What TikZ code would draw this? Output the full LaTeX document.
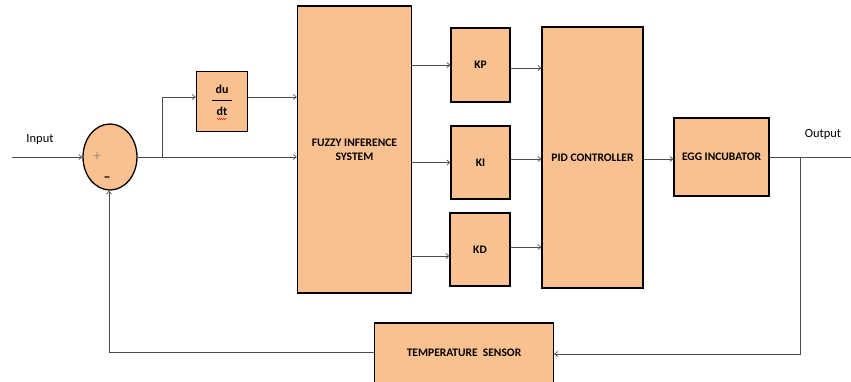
\documentclass[tikz,border=0pt]{standalone}
\usepackage{fontspec}
\setmainfont{Carlito}
\usetikzlibrary{arrows.meta,decorations.pathmorphing,shapes.geometric}
\definecolor{peach}{RGB}{249,192,144}
\begin{document}
\begin{tikzpicture}[x=1pt,y=-1pt,
  blk/.style={draw=black,line width=1.3pt,fill=peach,inner sep=0pt,font=\bfseries\fontsize{11.5}{14}\selectfont,align=center},
  lbl/.style={font=\fontsize{12.5}{14}\selectfont},
  wire/.style={draw=black!70,line width=0.7pt},
  arr/.style={wire,-{Straight Barb[length=3pt,width=5pt]}}]
\useasboundingbox (0,0) rectangle (851,381);
% blocks
\node[blk,ellipse,minimum width=54pt,minimum height=66pt] (sum) at (110,157) {};
\node[blk,minimum width=51pt,minimum height=60pt] (dd) at (222,101.5) {};
\node[blk,minimum width=114pt,minimum height=287pt] (fis) at (354.5,149.5) {FUZZY INFERENCE\\SYSTEM};
\node[blk,minimum width=59pt,minimum height=74pt] (kp) at (480.5,65) {KP};
\node[blk,minimum width=59pt,minimum height=73pt] (ki) at (480.5,162.5) {KI};
\node[blk,minimum width=60pt,minimum height=73pt] (kd) at (480,249.5) {KD};
\node[blk,minimum width=101pt,minimum height=261pt] (pid) at (592.5,157.5) {PID CONTROLLER};
\node[blk,minimum width=95pt,minimum height=78pt] (egg) at (721.5,157) {EGG INCUBATOR};
\node[blk,minimum width=179pt,minimum height=60pt] (ts) at (464,353) {TEMPERATURE\ \ SENSOR};
% du/dt
\node[font=\bfseries\fontsize{12}{14}\selectfont] (du) at (222,89) {du};
\node[font=\bfseries\fontsize{12}{14}\selectfont] (dt) at (222,111) {dt};
\draw[black,line width=0.6pt] (212,100.5) -- (232,100.5);
\draw[red,line width=0.4pt,decorate,decoration={snake,amplitude=0.6pt,segment length=2pt}] (217,119) -- (227,119);
% sum labels
\node[text=black!45,font=\fontsize{14}{14}\selectfont] (plus) at (97,157) {+};
\node[font=\bfseries\fontsize{14}{14}\selectfont] (minus) at (107,179) {--};
% text labels
\node[lbl] (inl) at (40,139) {Input};
\node[lbl] (outl) at (823,134) {Output};
% coordinates
\coordinate (inS) at (12,157);
\coordinate (br) at (162,157);
\coordinate (brt) at (162,97);
\coordinate (outE) at (851,157);
\coordinate (ob) at (800,157);
\coordinate (obb) at (800,354);
\coordinate (fbl) at (109,352);
% connectors
\draw[arr] (inS) -- (sum.west);
\draw[arr] (sum.east) -- (fis.west |- br);
\draw[arr] (br) -- (brt) -- (dd.west |- brt);
\draw[arr] (dd.east |- brt) -- (fis.west |- brt);
\draw[arr] (fis.east |- kp) -- (kp.west);
\draw[arr] (fis.east |- ki) -- (ki.west);
\draw[arr] (fis.east |- 0,256) -- (kd.west |- 0,256);
\draw[arr] (kp.east |- 0,68) -- (pid.west |- 0,68);
\draw[arr] (ki.east |- 0,159) -- (pid.west |- 0,159);
\draw[arr] (kd.east |- 0,247) -- (pid.west |- 0,247);
\draw[arr] (pid.east |- 0,159) -- (egg.west |- 0,159);
\draw[wire] (egg.east) -- (outE);
\draw[arr] (ob) -- (obb) -- (ts.east |- obb);
\draw[arr] (ts.west |- fbl) -- (fbl) -- (sum.south -| fbl);
\end{tikzpicture}
\end{document}
